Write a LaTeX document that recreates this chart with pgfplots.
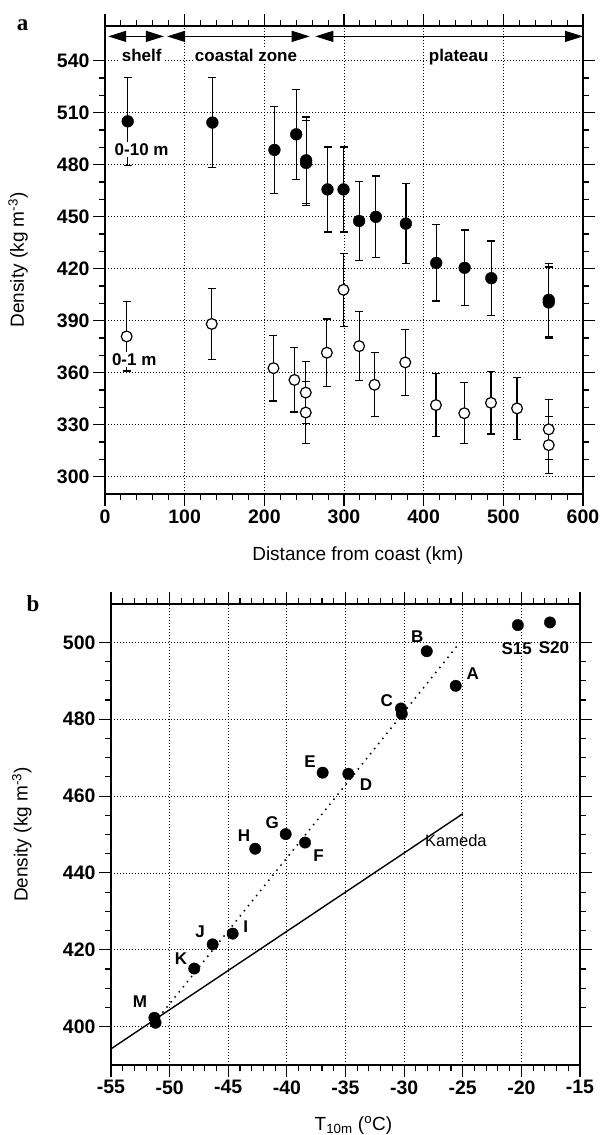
\documentclass[border=0pt]{standalone}
\usepackage{fontspec}
\setmainfont{Liberation Sans}
\newfontfamily\serifb{Liberation Serif}
\usepackage{pgfplots}
\usepackage{pgfplotstable}
\pgfplotsset{compat=1.18}
\usetikzlibrary{arrows.meta}

\pgfplotstableread{
x y e
28.5 505.0 25.5
134.8 504.3 26
212.7 488.5 25
240.0 497.5 26
252.5 482.5 25
252.5 481.0 24.5
279.3 465.7 24.5
299.4 465.7 24.5
319.0 447.5 23
340.0 449.9 23.5
377.7 446.0 23
415.8 423.3 22
451.4 420.5 21.8
484.9 414.5 21.5
557.0 402.0 21
557.0 400.5 20.5
}\tenm

\pgfplotstableread{
x y e
27.2 380.9 20
134.0 388.1 20.5
211.5 362.6 19
237.8 355.8 18.5
252.0 348.5 18
252.0 337.0 18
278.5 371.5 19.5
299.4 407.8 21
319.0 375.3 20
338.3 353.0 18.5
376.9 365.9 19
415.4 341.3 18
451.0 336.6 17.6
484.5 342.6 18
517.2 339.4 17.8
557.0 327.3 17.2
557.0 318.2 16.6
}\onem

\pgfplotstableread{
t rho
-17.56 505.2
-20.3 504.5
-25.6 488.7
-28.07 497.7
-30.27 482.8
-30.2 481.4
-34.76 465.8
-36.95 466.1
-38.45 447.9
-40.1 450.1
-42.7 446.3
-44.62 424.2
-46.33 421.4
-47.9 415.1
-51.3 402.3
-51.2 401.0
}\tempdens

\pgfplotsset{
  myaxis/.style={
    scale only axis,
    anchor=south west,
    axis line style={line width=1.4pt},
    tick align=outside,
    major tick length=12pt,
    minor tick length=6pt,
    every tick/.style={line width=1.1pt, black},
    grid=major,
    major grid style={dash pattern=on 1pt off 2pt, line width=0.75pt, black},
    /pgf/number format/assume math mode=true,
    tick label style={font=\fontsize{19.5}{21}\selectfont\bfseries},
    label style={font=\fontsize{19}{21}\selectfont},
  },
  ebar/.style={draw=none, mark=none,
    error bars/.cd, y dir=both, y explicit,
    error bar style={draw=black, solid, line width=1.2pt},
    error mark options={draw=black, solid, rotate=90, mark size=4pt, line width=1.2pt}},
}

\begin{document}
\begin{tikzpicture}
\useasboundingbox (0,0) rectangle (603pt,1135pt);
\node[anchor=base, font=\serifb\bfseries\fontsize{23}{25}\selectfont] at (22.5pt,1104pt) {a};
\node[anchor=base, font=\serifb\bfseries\fontsize{23}{25}\selectfont] at (33pt,523pt) {b};

\begin{axis}[myaxis, at={(105pt,641pt)}, width=478pt, height=468pt,
  xmin=0, xmax=600, ymin=290, ymax=560,
  xtick={0,100,...,600}, ytick={300,330,...,540},
  minor x tick num=4, minor y tick num=2,
  xlabel={Distance from coast (km)},
  ylabel={Density (kg m\textsuperscript{-3})},
  xlabel style={at={(axis description cs:0.529,-0.142)}, anchor=base},
  ylabel style={at={(axis description cs:-0.182,0.5)}, anchor=center},
]
\addplot[ebar] table[x=x, y=y, y error=e] {\tenm};
\addplot[ebar] table[x=x, y=y, y error=e] {\onem};
\addplot[only marks, mark=*, mark size=5.9pt, mark options={fill=black, draw=black}] table[x=x, y=y] {\tenm};
\addplot[only marks, mark=*, mark size=5.4pt, mark options={fill=white, draw=black, line width=1.2pt}] table[x=x, y=y] {\onem};

\draw[line width=1.2pt, {Triangle[length=18pt,width=11pt]}-{Triangle[length=18pt,width=11pt]}] (axis cs:4,554) -- (axis cs:74,554);
\draw[line width=1.2pt, {Triangle[length=18pt,width=11pt]}-{Triangle[length=18pt,width=11pt]}] (axis cs:78,554) -- (axis cs:257,554);
\draw[line width=1.2pt, {Triangle[length=18pt,width=11pt]}-{Triangle[length=18pt,width=11pt]}] (axis cs:264,554) -- (axis cs:600,554);

\node[fill=white, inner sep=1.5pt, anchor=base, font=\fontsize{17}{19}\selectfont\bfseries] at (axis cs:46,539.6) {shelf};
\node[fill=white, inner sep=1.5pt, anchor=base, font=\fontsize{17}{19}\selectfont\bfseries] at (axis cs:177,539.6) {coastal zone};
\node[fill=white, inner sep=1.5pt, anchor=base, font=\fontsize{17}{19}\selectfont\bfseries] at (axis cs:444,539.6) {plateau};
\node[fill=white, inner sep=1.5pt, font=\fontsize{17}{19}\selectfont\bfseries] at (axis cs:46,488.5) {0-10 m};
\node[fill=white, inner sep=1.5pt, font=\fontsize{17}{19}\selectfont\bfseries] at (axis cs:36.7,367.4) {0-1 m};
\end{axis}

\begin{axis}[myaxis, at={(111pt,70pt)}, width=469pt, height=461pt,
  xmin=-55, xmax=-15, ymin=390, ymax=510,
  xtick={-55,-50,...,-15}, ytick={400,420,...,500},
  minor x tick num=4, minor y tick num=3,
  xlabel={T\textsubscript{10m} (\textsuperscript{o}C)},
  ylabel={Density (kg m\textsuperscript{-3})},
  xlabel style={at={(axis description cs:0.517,-0.141)}, anchor=base},
  ylabel style={at={(axis description cs:-0.19,0.5)}, anchor=center},
]
\addplot[line width=1.4pt, black] coordinates {(-55,394.2) (-25,455.4)};
\addplot[line width=1.5pt, black, dash pattern=on 1.5pt off 5pt] coordinates {(-51.3,401) (-25.5,499)};
\addplot[only marks, mark=*, mark size=5.7pt, mark options={fill=black, draw=black}] table[x=t, y=rho] {\tempdens};

\begin{scope}[every node/.style={font=\fontsize{17}{19}\selectfont\bfseries, inner sep=0pt}]
\node at (axis cs:-28.88,501.6) {B};
\node at (axis cs:-24.15,491.8) {A};
\node at (axis cs:-31.49,484.8) {C};
\node at (axis cs:-33.25,462.9) {D};
\node at (axis cs:-20.4,498.5) {S15};
\node at (axis cs:-17.22,498.7) {S20};
\node at (axis cs:-38.03,469.0) {E};
\node at (axis cs:-41.24,453.0) {G};
\node at (axis cs:-43.66,449.8) {H};
\node at (axis cs:-37.29,444.6) {F};
\node at (axis cs:-43.51,426.0) {I};
\node at (axis cs:-47.4,424.7) {J};
\node at (axis cs:-49.03,417.7) {K};
\node at (axis cs:-52.53,406.5) {M};
\end{scope}
\node[anchor=west, inner sep=0pt, font=\fontsize{16.5}{18}\selectfont] at (axis cs:-28.22,448.5) {Kameda};
\end{axis}
\end{tikzpicture}
\end{document}
